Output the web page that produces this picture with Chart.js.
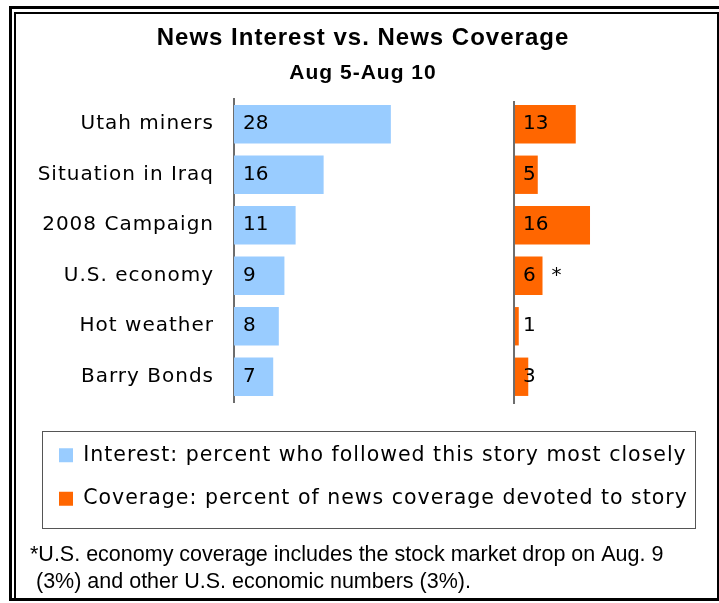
<!DOCTYPE html>
<html>
<head>
<meta charset="utf-8">
<title>News Interest vs. News Coverage</title>
<script src="https://cdn.jsdelivr.net/npm/chart.js@4.4.1/dist/chart.umd.min.js"></script>
<style>
  body { margin: 0; background: #fff; }
  #wrap { position: relative; width: 719px; height: 603px; }
  .frame { position: absolute; box-sizing: border-box; }
  #outer { left: 9px; top: 6px; width: 710px; height: 595px; border-left: 3px solid #000; border-top: 3px solid #000; border-bottom: 3px solid #000; }
  #inner { left: 14px; top: 12px; width: 705px; height: 588px; border: 2px solid #000; }
  canvas { position: absolute; left: 0; top: 0; }
</style>
</head>
<body>
<div id="wrap">
  <div class="frame" id="outer"></div>
  <div class="frame" id="inner"></div>
  <canvas id="newsChart" width="719" height="603"></canvas>
</div>
<script>
const stories = ['Utah miners', 'Situation in Iraq', '2008 Campaign', 'U.S. economy', 'Hot weather', 'Barry Bonds'];
const interest = [28, 16, 11, 9, 8, 7];
const coverage = [13, 5, 16, 6, 1, 3];
const coverageNotes = ['', '', '', '*', '', ''];
const interestLabel = 'Interest: percent who followed this story most closely';
const coverageLabel = 'Coverage: percent of news coverage devoted to story';
const titleText = 'News Interest vs. News Coverage';
const subtitleText = 'Aug 5-Aug 10';
const footnote = [
    '*U.S. economy coverage includes the stock market drop on Aug. 9',
    ' (3%) and other U.S. economic numbers (3%).'
];

const labelFont = '"DejaVu Sans", Verdana, sans-serif';

// the reference text is a little spread out, canvas can do that
const spacing = {
    id: 'spacing',
    beforeUpdate(chart) { chart.ctx.letterSpacing = '1px'; },
    beforeDraw(chart) { chart.ctx.letterSpacing = '1px'; }
};

// numbers inside the bars, the asterisk and the second axis line
const barText = {
    id: 'barText',
    afterDatasetsDraw(chart) {
        const ctx = chart.ctx;
        ctx.save();
        ctx.letterSpacing = '0px';
        ctx.font = '20px ' + labelFont;
        ctx.fillStyle = '#000';
        ctx.textBaseline = 'middle';
        ctx.textAlign = 'left';
        chart.data.datasets.forEach((ds, i) => {
            chart.getDatasetMeta(i).data.forEach((bar, j) => {
                ctx.fillText(ds.data[j], bar.base + 9, bar.y);
                if (i === 1 && coverageNotes[j]) {
                    ctx.fillText(coverageNotes[j], bar.x + 9, bar.y);
                }
            });
        });
        const x0 = chart.scales.x2.getPixelForValue(0);
        ctx.strokeStyle = '#6d6d6d';
        ctx.lineWidth = 2;
        ctx.beginPath();
        ctx.moveTo(x0, chart.chartArea.top + 2);
        ctx.lineTo(x0, chart.chartArea.bottom + 2);
        ctx.stroke();
        ctx.restore();
    }
};

// box round the legend and the footnote under it
const legendBox = {
    id: 'legendBox',
    afterDraw(chart) {
        const ctx = chart.ctx;
        const lg = chart.legend;
        ctx.save();
        ctx.strokeStyle = '#555';
        ctx.lineWidth = 1;
        ctx.strokeRect(42.5, lg.top + 9.5, 653, lg.height);
        ctx.letterSpacing = '0px';
        ctx.font = '21.5px "Liberation Sans", Arial, sans-serif';
        ctx.fillStyle = '#000';
        ctx.textBaseline = 'middle';
        footnote.forEach((line, i) => {
            ctx.fillText(line, 30, lg.bottom + 36 + i * 27);
        });
        ctx.restore();
    }
};

function drawChart() {
    const ctx = document.getElementById('newsChart').getContext('2d');

    new Chart(ctx, {
        type: 'bar',
        data: {
            labels: stories,
            datasets: [{
                label: interestLabel,
                data: interest,
                backgroundColor: '#99CCFF',
                xAxisID: 'x',
                grouped: false,
                barPercentage: 0.76,
                categoryPercentage: 1
            }, {
                label: coverageLabel,
                data: coverage,
                backgroundColor: '#FF6600',
                xAxisID: 'x2',
                grouped: false,
                barPercentage: 0.76,
                categoryPercentage: 1
            }]
        },
        options: {
            indexAxis: 'y',
            responsive: false,
            animation: false,
            layout: {
                padding: { left: 36, right: 29, top: 0, bottom: 84 }
            },
            scales: {
                x: {
                    min: 0,
                    max: 81.4,
                    grid: { display: false },
                    border: { display: false },
                    ticks: { display: false },
                    afterFit: (scale) => { scale.height = 20; }
                },
                x2: {
                    min: -58.95,
                    max: 37.05,
                    display: false
                },
                y: {
                    grid: { display: false, drawTicks: false },
                    border: { color: '#6d6d6d', width: 2 },
                    ticks: {
                        color: '#000',
                        padding: 20,
                        font: { family: labelFont, size: 20 }
                    },
                    afterFit: (scale) => { scale.width = 198; }
                }
            },
            plugins: {
                title: {
                    display: true,
                    text: titleText,
                    color: '#000',
                    font: { family: '"Liberation Sans", Arial, sans-serif', size: 24, weight: 'bold' },
                    padding: { top: 23.6, bottom: 0 }
                },
                subtitle: {
                    display: true,
                    text: subtitleText,
                    color: '#000',
                    font: { family: '"Liberation Sans", Arial, sans-serif', size: 21, weight: 'bold' },
                    padding: { top: 8, bottom: 13.4 }
                },
                legend: {
                    position: 'bottom',
                    align: 'start',
                    labels: {
                        color: '#000',
                        boxWidth: 14,
                        boxHeight: 14,
                        padding: 23,
                        font: { family: labelFont, size: 20.5 }
                    }
                },
                tooltip: {
                    enabled: false
                }
            }
        },
        plugins: [spacing, barText, legendBox]
    });
}

window.onload = drawChart;
</script>
</body>
</html>
